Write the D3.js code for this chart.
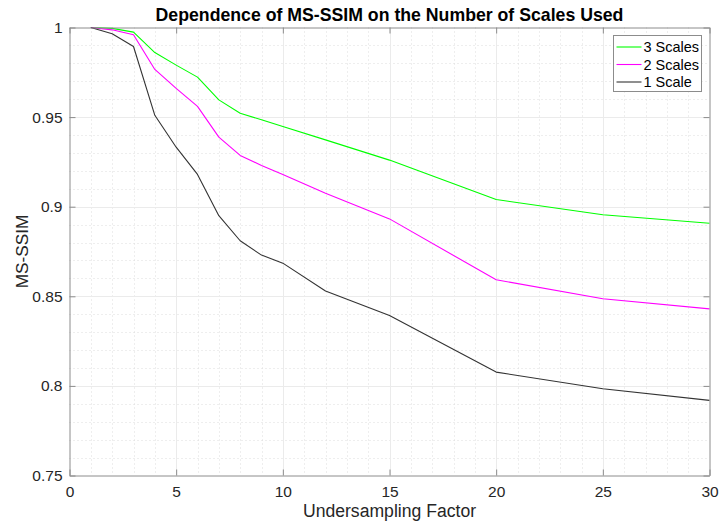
<!DOCTYPE html>
<html>
<head>
<meta charset="utf-8">
<script src="https://cdn.jsdelivr.net/npm/d3@7"></script>
<style>
  html, body { margin: 0; padding: 0; background: #fff; }
  svg { display: block; font-family: "Liberation Sans", Arial, Helvetica, sans-serif; }
</style>
</head>
<body>
<svg id="chart" width="720" height="524"></svg>
<script>
// Undersampling factors evaluated
const factors = [1, 2, 3, 4, 5, 6, 7, 8, 9, 10, 12, 15, 20, 25, 30];

// MS-SSIM for each number of scales
const scales3 = [1.0, 0.9995, 0.9974, 0.986, 0.979, 0.9723, 0.9596, 0.9522, 0.9485, 0.9447, 0.9373, 0.926, 0.904, 0.8955, 0.8908];
const scales2 = [1.0, 0.9987, 0.996, 0.9766, 0.966, 0.956, 0.9388, 0.9286, 0.923, 0.918, 0.9075, 0.8932, 0.8592, 0.8486, 0.843];
const scales1 = [1.0, 0.9965, 0.9894, 0.951, 0.9332, 0.918, 0.895, 0.881, 0.873, 0.8685, 0.853, 0.8393, 0.8077, 0.7984, 0.7919];

const seriesNames = ["3 Scales", "2 Scales", "1 Scale"];
const seriesColors = ["#00ff00", "#ff00ff", "#333333"];

const xTicks = [0, 5, 10, 15, 20, 25, 30];
const yTicks = [0.75, 0.8, 0.85, 0.9, 0.95, 1];

const svg = d3.select("#chart");
const m = { left: 69.5, right: 709.5, top: 27.5, bottom: 475.5 };

const x = d3.scaleLinear().domain([0, 30]).range([m.left, m.right]);
const y = d3.scaleLinear().domain([0.75, 1]).range([m.bottom, m.top]);

const g = svg.append("g");

// Minor grid (dotted)
const minorX = d3.range(1, 30).filter(v => v % 5 !== 0);
const minorY = d3.range(0, 25).map(i => 0.75 + i * 0.01).filter((v, i) => i % 5 !== 0);
g.selectAll(".mx").data(minorX).join("line")
  .attr("x1", d => Math.round(x(d)) + 0.5).attr("x2", d => Math.round(x(d)) + 0.5)
  .attr("y1", m.top).attr("y2", m.bottom)
  .attr("stroke", "#dcdcdc").attr("stroke-width", 1).attr("stroke-dasharray", "1,3");
g.selectAll(".my").data(minorY).join("line")
  .attr("y1", d => Math.round(y(d)) + 0.5).attr("y2", d => Math.round(y(d)) + 0.5)
  .attr("x1", m.left).attr("x2", m.right)
  .attr("stroke", "#dcdcdc").attr("stroke-width", 1).attr("stroke-dasharray", "1,3");

// Major grid
g.selectAll(".gx").data(xTicks.slice(1, -1)).join("line")
  .attr("x1", d => Math.round(x(d)) + 0.5).attr("x2", d => Math.round(x(d)) + 0.5)
  .attr("y1", m.top).attr("y2", m.bottom)
  .attr("stroke", "#ebebeb").attr("stroke-width", 1);
g.selectAll(".gy").data(yTicks.slice(1, -1)).join("line")
  .attr("y1", d => Math.round(y(d)) + 0.5).attr("y2", d => Math.round(y(d)) + 0.5)
  .attr("x1", m.left).attr("x2", m.right)
  .attr("stroke", "#ebebeb").attr("stroke-width", 1);

// Data lines
const line = d3.line().x((d, i) => x(factors[i])).y(d => y(d));
[scales3, scales2, scales1].forEach((vals, k) => {
  g.append("path").datum(vals)
    .attr("d", line)
    .attr("fill", "none")
    .attr("stroke", seriesColors[k])
    .attr("stroke-width", 1.1)
    .attr("stroke-linejoin", "round");
});

// Axes box with inward ticks on all sides
const axisColor = "#8c8c8c";
const tickSize = 6;
const xBottom = d3.axisBottom(x).tickValues(xTicks).tickSizeInner(-tickSize).tickSizeOuter(0).tickPadding(10).tickFormat(d3.format("d"));
const xTop = d3.axisTop(x).tickValues(xTicks).tickSizeInner(-tickSize).tickSizeOuter(0).tickFormat("");
const yLeft = d3.axisLeft(y).tickValues(yTicks).tickSizeInner(-tickSize).tickSizeOuter(0).tickPadding(7).tickFormat(d => d === 1 ? "1" : d3.format("")(d));
const yRight = d3.axisRight(y).tickValues(yTicks).tickSizeInner(-tickSize).tickSizeOuter(0).tickFormat("");

function styleAxis(sel) {
  sel.select(".domain").attr("stroke", axisColor);
  sel.selectAll(".tick line").attr("stroke", axisColor);
  sel.selectAll(".tick text").attr("fill", "#262626").style("font-size", "15.5px");
}
svg.append("g").attr("transform", `translate(0,${m.bottom})`).call(xBottom).call(styleAxis);
svg.append("g").attr("transform", `translate(0,${m.top})`).call(xTop).call(styleAxis);
svg.append("g").attr("transform", `translate(${m.left},0)`).call(yLeft).call(styleAxis);
svg.append("g").attr("transform", `translate(${m.right},0)`).call(yRight).call(styleAxis);

// Title and axis labels
svg.append("text")
  .attr("x", (m.left + m.right) / 2).attr("y", 21)
  .attr("text-anchor", "middle")
  .attr("font-weight", "bold").attr("font-size", 17.7).attr("fill", "#000")
  .text("Dependence of MS-SSIM on the Number of Scales Used");

svg.append("text")
  .attr("x", (m.left + m.right) / 2).attr("y", 517)
  .attr("text-anchor", "middle")
  .attr("font-size", 17.6).attr("fill", "#262626")
  .text("Undersampling Factor");

svg.append("text")
  .attr("transform", `translate(28,${(m.top + m.bottom) / 2}) rotate(-90)`)
  .attr("text-anchor", "middle")
  .attr("font-size", 17.2).attr("fill", "#262626")
  .text("MS-SSIM");

// Legend
const lg = svg.append("g").attr("transform", "translate(613.5,35.5)");
lg.append("rect").attr("width", 88).attr("height", 56)
  .attr("fill", "#fff").attr("stroke", "#8c8c8c").attr("stroke-width", 1);
seriesNames.forEach((name, i) => {
  const cy = 11.5 + i * 17.5;
  lg.append("line").attr("x1", 3).attr("x2", 28).attr("y1", cy).attr("y2", cy)
    .attr("stroke", seriesColors[i]).attr("stroke-width", 1.1);
  lg.append("text").attr("x", 30).attr("y", cy).attr("dy", "0.36em")
    .attr("font-size", 14.5).attr("fill", "#000").text(name);
});
</script>
</body>
</html>
